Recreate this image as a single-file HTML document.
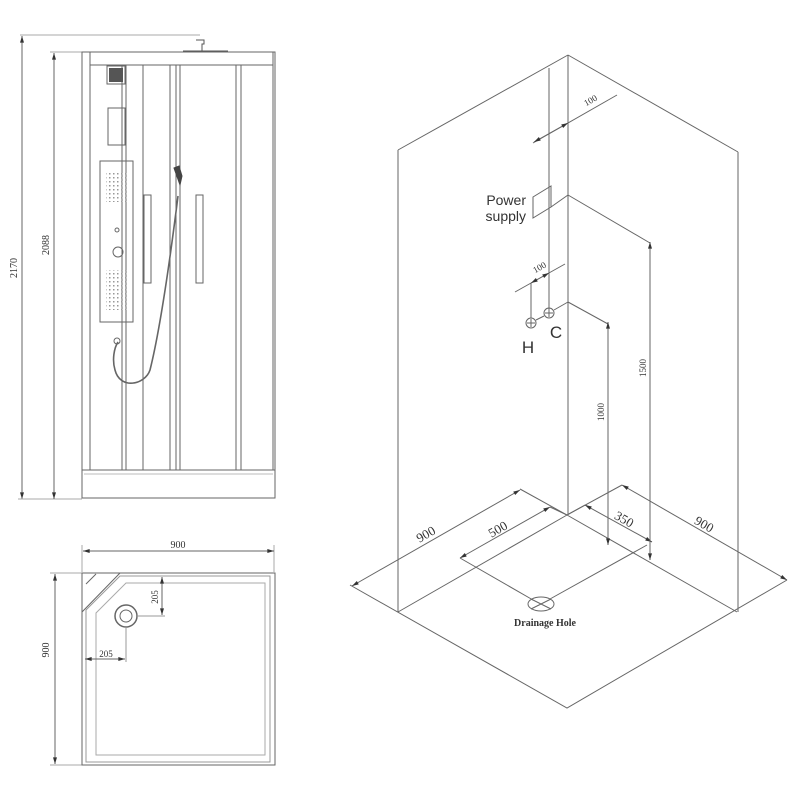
<!DOCTYPE html>
<html><head><style>html,body{margin:0;padding:0;background:#fff}svg{display:block}</style></head><body>
<svg width="800" height="800" viewBox="0 0 800 800" xmlns="http://www.w3.org/2000/svg" font-family="Liberation Serif, serif">
<defs>
<marker id="a" viewBox="0 0 10 6" refX="10" refY="3" markerWidth="8" markerHeight="4" orient="auto-start-reverse"><path d="M0,0L10,3L0,6z" fill="#333"/></marker>
<pattern id="d" width="4" height="4" patternUnits="userSpaceOnUse"><rect x="1" y="1" width="1.5" height="1.5" fill="#999"/></pattern>
</defs>
<g stroke="#666" stroke-width="1" fill="none">
<line x1="20" y1="35" x2="200" y2="35" stroke="#aaa"/>
<line x1="22" y1="36" x2="22" y2="499" marker-start="url(#a)" marker-end="url(#a)"/>
<line x1="18" y1="499" x2="82" y2="499" stroke="#aaa"/>
<line x1="50" y1="52" x2="82" y2="52" stroke="#aaa"/>
<line x1="54" y1="53" x2="54" y2="499" marker-start="url(#a)" marker-end="url(#a)"/>
<rect x="82" y="52" width="193" height="446"/>
<line x1="90" y1="52" x2="90" y2="470"/>
<line x1="90" y1="65" x2="273" y2="65"/>
<line x1="273" y1="52" x2="273" y2="470"/>
<line x1="82" y1="470" x2="275" y2="470"/>
<line x1="84" y1="474" x2="273" y2="474" stroke="#bbb"/>
<line x1="122" y1="65" x2="122" y2="470"/>
<line x1="126" y1="65" x2="126" y2="470"/>
<line x1="143" y1="65" x2="143" y2="470"/>
<line x1="170" y1="65" x2="170" y2="470"/>
<line x1="176" y1="65" x2="176" y2="470"/>
<line x1="180" y1="65" x2="180" y2="470"/>
<line x1="236" y1="65" x2="236" y2="470"/>
<line x1="241" y1="65" x2="241" y2="470"/>
<line x1="183" y1="51" x2="228" y2="51" stroke="#555"/>
<path d="M196,40 h8 v4 h-2 v7" stroke="#555"/>
<rect x="107" y="66" width="18" height="18"/>
<rect x="109" y="68" width="14" height="14" fill="#555" stroke="none"/>
<rect x="108" y="108" width="17" height="37"/>
<rect x="100" y="161" width="33" height="161"/>
<rect x="106" y="172" width="22" height="30" fill="url(#d)" stroke="none"/>
<rect x="106" y="270" width="22" height="40" fill="url(#d)" stroke="none"/>
<circle cx="118" cy="252" r="5"/><circle cx="117" cy="230" r="2"/>
<rect x="144" y="195" width="7" height="88"/>
<rect x="196" y="195" width="7" height="88"/>
<path d="M174,168 l5,-2 l3,10 l-2,9 z" fill="#444" stroke="#444"/>
<path d="M178,196 C170,260 160,330 150,370 C145,385 120,390 115,370 C112,360 114,348 118,342" stroke="#666" stroke-width="1.6"/>
<circle cx="117" cy="341" r="3"/>
<line x1="82" y1="545" x2="82" y2="572" stroke="#aaa"/>
<line x1="274" y1="545" x2="274" y2="572" stroke="#aaa"/>
<line x1="83" y1="551" x2="274" y2="551" marker-start="url(#a)" marker-end="url(#a)"/>
<line x1="50" y1="573" x2="82" y2="573" stroke="#aaa"/>
<line x1="50" y1="765" x2="82" y2="765" stroke="#aaa"/>
<line x1="55" y1="574" x2="55" y2="764" marker-start="url(#a)" marker-end="url(#a)"/>
<rect x="82" y="573" width="193" height="192"/>
<path d="M120,576 L270,576 L270,762 L86,762 L86,610 Z" stroke="#999"/>
<path d="M126,583 L265,583 L265,755 L96,755 L96,613 Z" stroke="#aaa"/>
<path d="M82,612 L120,573" /><path d="M86,584 L96,574"/>
<circle cx="126" cy="616" r="11" stroke-width="1.5"/><circle cx="126" cy="616" r="6"/>
<line x1="137" y1="616" x2="165" y2="616" stroke="#999"/>
<line x1="162" y1="577" x2="162" y2="615" marker-start="url(#a)" marker-end="url(#a)"/>
<line x1="126" y1="627" x2="126" y2="662" stroke="#999"/>
<line x1="85" y1="659" x2="125" y2="659" marker-start="url(#a)" marker-end="url(#a)"/>
<line x1="568" y1="55" x2="568" y2="515"/>
<line x1="568" y1="55" x2="398" y2="150"/>
<line x1="568" y1="55" x2="738" y2="152"/>
<line x1="398" y1="150" x2="398" y2="612"/>
<line x1="738" y1="152" x2="738" y2="612"/>
<path d="M567,515 L398,612 M350,585 L567,708 L787,580 M567,515 L737,612"/>
<line x1="352" y1="586" x2="520" y2="490" marker-start="url(#a)" marker-end="url(#a)"/>
<line x1="520" y1="489" x2="567" y2="515"/>
<line x1="622" y1="485" x2="787" y2="580" marker-start="url(#a)" marker-end="url(#a)"/>
<line x1="622" y1="485" x2="567" y2="515"/>
<line x1="460" y1="558" x2="550" y2="507" marker-start="url(#a)" marker-end="url(#a)"/>
<line x1="550" y1="507" x2="567" y2="515"/>
<line x1="460" y1="558" x2="533" y2="600"/>
<line x1="550" y1="599" x2="647" y2="545"/>
<line x1="585" y1="505" x2="652" y2="542" marker-start="url(#a)" marker-end="url(#a)"/>
<line x1="585" y1="505" x2="567" y2="515"/>
<ellipse cx="541" cy="604" rx="13" ry="7"/>
<path d="M531,599 L551,609 M531,609 L551,599"/>
<line x1="568" y1="302" x2="608" y2="324"/>
<line x1="608" y1="322" x2="608" y2="545" marker-start="url(#a)" marker-end="url(#a)"/>
<line x1="568" y1="195" x2="650" y2="243"/>
<line x1="650" y1="242" x2="650" y2="560" marker-start="url(#a)" marker-end="url(#a)"/>
<line x1="549" y1="68" x2="549" y2="309"/>
<line x1="533" y1="143" x2="617" y2="95"/>
<line x1="534" y1="142" x2="568" y2="123" marker-start="url(#a)" marker-end="url(#a)"/>
<path d="M533,197 L551,186 L551,207 L533,218 Z"/>
<line x1="551" y1="207" x2="568" y2="195"/>
<line x1="515" y1="292" x2="565" y2="264"/>
<line x1="531" y1="283" x2="549" y2="273" marker-start="url(#a)" marker-end="url(#a)"/>
<line x1="531" y1="283" x2="531" y2="318"/>
<circle cx="531" cy="323" r="5"/><circle cx="549" cy="313" r="5"/>
<path d="M527,323h8M531,319v8M545,313h8M549,309v8"/>
<line x1="536" y1="320" x2="544" y2="316"/>
<line x1="554" y1="310" x2="568" y2="302"/>
</g>
<g fill="#333" font-size="10">
<text x="17" y="268" transform="rotate(-90 17 268)" text-anchor="middle">2170</text>
<text x="49" y="245" transform="rotate(-90 49 245)" text-anchor="middle">2088</text>
<text x="178" y="548" text-anchor="middle">900</text>
<text x="49" y="650" transform="rotate(-90 49 650)" text-anchor="middle">900</text>
<text x="158" y="597" transform="rotate(-90 158 597)" text-anchor="middle" font-size="9">205</text>
<text x="106" y="657" text-anchor="middle" font-size="9">205</text>
<text x="428" y="538" transform="rotate(-30 428 538)" text-anchor="middle" font-size="13">900</text>
<text x="500" y="533" transform="rotate(-30 500 533)" text-anchor="middle" font-size="13">500</text>
<text x="622" y="523" transform="rotate(30 622 523)" text-anchor="middle" font-size="13">350</text>
<text x="702" y="528" transform="rotate(30 702 528)" text-anchor="middle" font-size="13">900</text>
<text x="592" y="103" transform="rotate(-30 592 103)" text-anchor="middle" font-size="9">100</text>
<text x="541" y="270" transform="rotate(-30 541 270)" text-anchor="middle" font-size="9">100</text>
<text x="604" y="412" transform="rotate(-90 604 412)" text-anchor="middle" font-size="9">1000</text>
<text x="646" y="368" transform="rotate(-90 646 368)" text-anchor="middle" font-size="9">1500</text>
<text x="545" y="626" text-anchor="middle" font-size="10" font-weight="bold">Drainage Hole</text>
</g>
<g fill="#333" font-family="Liberation Sans, sans-serif">
<text x="526" y="205" text-anchor="end" font-size="14">Power</text>
<text x="526" y="221" text-anchor="end" font-size="14">supply</text>
<text x="528" y="353" text-anchor="middle" font-size="17">H</text>
<text x="556" y="338" text-anchor="middle" font-size="17">C</text>
</g>
</svg>
</body></html>
